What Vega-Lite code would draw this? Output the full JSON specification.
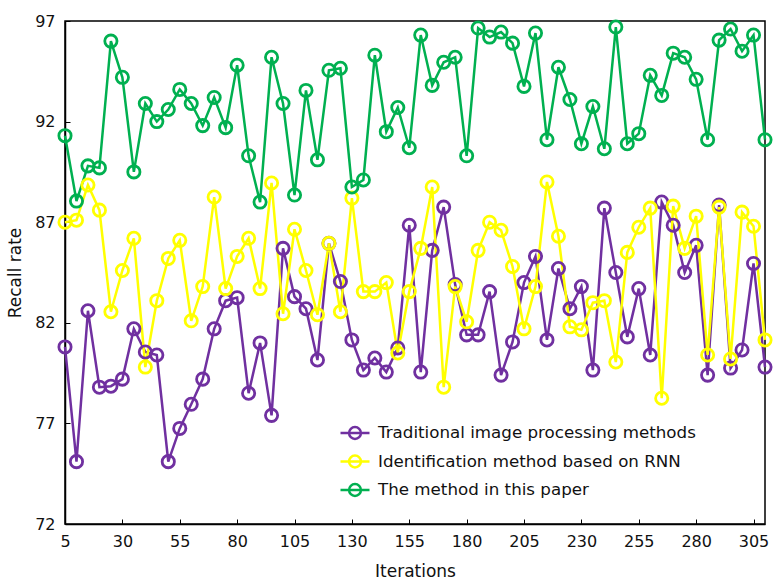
{
  "$schema": "https://vega.github.io/schema/vega-lite/v6.json",
  "width": 700,
  "height": 503,
  "autosize": {"type": "none"},
  "padding": {"left": 65, "top": 21, "right": 9, "bottom": 57},
  "background": "white",
  "config": {
    "font": "DejaVu Sans",
    "view": {"stroke": "black", "strokeWidth": 1.5},
    "axis": {
      "grid": false,
      "domainColor": "black",
      "domainWidth": 1.5,
      "tickColor": "black",
      "tickWidth": 1,
      "tickSize": -5,
      "labelFontSize": 16,
      "labelColor": "#111111",
      "titleFontSize": 17,
      "titleFontWeight": "normal",
      "titleColor": "#111111",
      "labelFont": "DejaVu Sans",
      "titleFont": "DejaVu Sans"
    }
  },
  "data": {
    "values": [
      {"it":5,"s":"Traditional image processing methods","v":80.8},
      {"it":10,"s":"Traditional image processing methods","v":75.1},
      {"it":15,"s":"Traditional image processing methods","v":82.6},
      {"it":20,"s":"Traditional image processing methods","v":78.8},
      {"it":25,"s":"Traditional image processing methods","v":78.85},
      {"it":30,"s":"Traditional image processing methods","v":79.2},
      {"it":35,"s":"Traditional image processing methods","v":81.7},
      {"it":40,"s":"Traditional image processing methods","v":80.55},
      {"it":45,"s":"Traditional image processing methods","v":80.4},
      {"it":50,"s":"Traditional image processing methods","v":75.1},
      {"it":55,"s":"Traditional image processing methods","v":76.75},
      {"it":60,"s":"Traditional image processing methods","v":77.95},
      {"it":65,"s":"Traditional image processing methods","v":79.2},
      {"it":70,"s":"Traditional image processing methods","v":81.7},
      {"it":75,"s":"Traditional image processing methods","v":83.1},
      {"it":80,"s":"Traditional image processing methods","v":83.25},
      {"it":85,"s":"Traditional image processing methods","v":78.5},
      {"it":90,"s":"Traditional image processing methods","v":81.0},
      {"it":95,"s":"Traditional image processing methods","v":77.4},
      {"it":100,"s":"Traditional image processing methods","v":85.7},
      {"it":105,"s":"Traditional image processing methods","v":83.3},
      {"it":110,"s":"Traditional image processing methods","v":82.7},
      {"it":115,"s":"Traditional image processing methods","v":80.15},
      {"it":120,"s":"Traditional image processing methods","v":85.95},
      {"it":125,"s":"Traditional image processing methods","v":84.05},
      {"it":130,"s":"Traditional image processing methods","v":81.15},
      {"it":135,"s":"Traditional image processing methods","v":79.65},
      {"it":140,"s":"Traditional image processing methods","v":80.25},
      {"it":145,"s":"Traditional image processing methods","v":79.55},
      {"it":150,"s":"Traditional image processing methods","v":80.75},
      {"it":155,"s":"Traditional image processing methods","v":86.85},
      {"it":160,"s":"Traditional image processing methods","v":79.55},
      {"it":165,"s":"Traditional image processing methods","v":85.6},
      {"it":170,"s":"Traditional image processing methods","v":87.75},
      {"it":175,"s":"Traditional image processing methods","v":83.9},
      {"it":180,"s":"Traditional image processing methods","v":81.4},
      {"it":185,"s":"Traditional image processing methods","v":81.4},
      {"it":190,"s":"Traditional image processing methods","v":83.55},
      {"it":195,"s":"Traditional image processing methods","v":79.4},
      {"it":200,"s":"Traditional image processing methods","v":81.05},
      {"it":205,"s":"Traditional image processing methods","v":84.0},
      {"it":210,"s":"Traditional image processing methods","v":85.3},
      {"it":215,"s":"Traditional image processing methods","v":81.15},
      {"it":220,"s":"Traditional image processing methods","v":84.7},
      {"it":225,"s":"Traditional image processing methods","v":82.7},
      {"it":230,"s":"Traditional image processing methods","v":83.8},
      {"it":235,"s":"Traditional image processing methods","v":79.65},
      {"it":240,"s":"Traditional image processing methods","v":87.7},
      {"it":245,"s":"Traditional image processing methods","v":84.5},
      {"it":250,"s":"Traditional image processing methods","v":81.3},
      {"it":255,"s":"Traditional image processing methods","v":83.7},
      {"it":260,"s":"Traditional image processing methods","v":80.4},
      {"it":265,"s":"Traditional image processing methods","v":88.0},
      {"it":270,"s":"Traditional image processing methods","v":86.85},
      {"it":275,"s":"Traditional image processing methods","v":84.5},
      {"it":280,"s":"Traditional image processing methods","v":85.85},
      {"it":285,"s":"Traditional image processing methods","v":79.4},
      {"it":290,"s":"Traditional image processing methods","v":87.85},
      {"it":295,"s":"Traditional image processing methods","v":79.75},
      {"it":300,"s":"Traditional image processing methods","v":80.65},
      {"it":305,"s":"Traditional image processing methods","v":84.95},
      {"it":310,"s":"Traditional image processing methods","v":79.8},
      {"it":5,"s":"Identification method based on RNN","v":87.0},
      {"it":10,"s":"Identification method based on RNN","v":87.1},
      {"it":15,"s":"Identification method based on RNN","v":88.85},
      {"it":20,"s":"Identification method based on RNN","v":87.6},
      {"it":25,"s":"Identification method based on RNN","v":82.55},
      {"it":30,"s":"Identification method based on RNN","v":84.6},
      {"it":35,"s":"Identification method based on RNN","v":86.2},
      {"it":40,"s":"Identification method based on RNN","v":79.8},
      {"it":45,"s":"Identification method based on RNN","v":83.1},
      {"it":50,"s":"Identification method based on RNN","v":85.2},
      {"it":55,"s":"Identification method based on RNN","v":86.1},
      {"it":60,"s":"Identification method based on RNN","v":82.1},
      {"it":65,"s":"Identification method based on RNN","v":83.8},
      {"it":70,"s":"Identification method based on RNN","v":88.25},
      {"it":75,"s":"Identification method based on RNN","v":83.7},
      {"it":80,"s":"Identification method based on RNN","v":85.3},
      {"it":85,"s":"Identification method based on RNN","v":86.2},
      {"it":90,"s":"Identification method based on RNN","v":83.7},
      {"it":95,"s":"Identification method based on RNN","v":88.95},
      {"it":100,"s":"Identification method based on RNN","v":82.45},
      {"it":105,"s":"Identification method based on RNN","v":86.65},
      {"it":110,"s":"Identification method based on RNN","v":84.6},
      {"it":115,"s":"Identification method based on RNN","v":82.4},
      {"it":120,"s":"Identification method based on RNN","v":85.95},
      {"it":125,"s":"Identification method based on RNN","v":82.55},
      {"it":130,"s":"Identification method based on RNN","v":88.2},
      {"it":135,"s":"Identification method based on RNN","v":83.55},
      {"it":140,"s":"Identification method based on RNN","v":83.55},
      {"it":145,"s":"Identification method based on RNN","v":84.0},
      {"it":150,"s":"Identification method based on RNN","v":80.5},
      {"it":155,"s":"Identification method based on RNN","v":83.55},
      {"it":160,"s":"Identification method based on RNN","v":85.7},
      {"it":165,"s":"Identification method based on RNN","v":88.75},
      {"it":170,"s":"Identification method based on RNN","v":78.8},
      {"it":175,"s":"Identification method based on RNN","v":83.8},
      {"it":180,"s":"Identification method based on RNN","v":82.05},
      {"it":185,"s":"Identification method based on RNN","v":85.6},
      {"it":190,"s":"Identification method based on RNN","v":87.0},
      {"it":195,"s":"Identification method based on RNN","v":86.6},
      {"it":200,"s":"Identification method based on RNN","v":84.8},
      {"it":205,"s":"Identification method based on RNN","v":81.7},
      {"it":210,"s":"Identification method based on RNN","v":83.8},
      {"it":215,"s":"Identification method based on RNN","v":89.0},
      {"it":220,"s":"Identification method based on RNN","v":86.3},
      {"it":225,"s":"Identification method based on RNN","v":81.8},
      {"it":230,"s":"Identification method based on RNN","v":81.65},
      {"it":235,"s":"Identification method based on RNN","v":83.0},
      {"it":240,"s":"Identification method based on RNN","v":83.1},
      {"it":245,"s":"Identification method based on RNN","v":80.05},
      {"it":250,"s":"Identification method based on RNN","v":85.5},
      {"it":255,"s":"Identification method based on RNN","v":86.75},
      {"it":260,"s":"Identification method based on RNN","v":87.7},
      {"it":265,"s":"Identification method based on RNN","v":78.25},
      {"it":270,"s":"Identification method based on RNN","v":87.8},
      {"it":275,"s":"Identification method based on RNN","v":85.7},
      {"it":280,"s":"Identification method based on RNN","v":87.3},
      {"it":285,"s":"Identification method based on RNN","v":80.4},
      {"it":290,"s":"Identification method based on RNN","v":87.75},
      {"it":295,"s":"Identification method based on RNN","v":80.2},
      {"it":300,"s":"Identification method based on RNN","v":87.5},
      {"it":305,"s":"Identification method based on RNN","v":86.8},
      {"it":310,"s":"Identification method based on RNN","v":81.15},
      {"it":5,"s":"The method in this paper","v":91.3},
      {"it":10,"s":"The method in this paper","v":88.05},
      {"it":15,"s":"The method in this paper","v":89.8},
      {"it":20,"s":"The method in this paper","v":89.7},
      {"it":25,"s":"The method in this paper","v":96.0},
      {"it":30,"s":"The method in this paper","v":94.2},
      {"it":35,"s":"The method in this paper","v":89.5},
      {"it":40,"s":"The method in this paper","v":92.9},
      {"it":45,"s":"The method in this paper","v":92.0},
      {"it":50,"s":"The method in this paper","v":92.6},
      {"it":55,"s":"The method in this paper","v":93.6},
      {"it":60,"s":"The method in this paper","v":92.9},
      {"it":65,"s":"The method in this paper","v":91.8},
      {"it":70,"s":"The method in this paper","v":93.2},
      {"it":75,"s":"The method in this paper","v":91.7},
      {"it":80,"s":"The method in this paper","v":94.8},
      {"it":85,"s":"The method in this paper","v":90.3},
      {"it":90,"s":"The method in this paper","v":88.0},
      {"it":95,"s":"The method in this paper","v":95.2},
      {"it":100,"s":"The method in this paper","v":92.9},
      {"it":105,"s":"The method in this paper","v":88.35},
      {"it":110,"s":"The method in this paper","v":93.55},
      {"it":115,"s":"The method in this paper","v":90.1},
      {"it":120,"s":"The method in this paper","v":94.55},
      {"it":125,"s":"The method in this paper","v":94.65},
      {"it":130,"s":"The method in this paper","v":88.75},
      {"it":135,"s":"The method in this paper","v":89.1},
      {"it":140,"s":"The method in this paper","v":95.3},
      {"it":145,"s":"The method in this paper","v":91.5},
      {"it":150,"s":"The method in this paper","v":92.7},
      {"it":155,"s":"The method in this paper","v":90.7},
      {"it":160,"s":"The method in this paper","v":96.3},
      {"it":165,"s":"The method in this paper","v":93.8},
      {"it":170,"s":"The method in this paper","v":94.95},
      {"it":175,"s":"The method in this paper","v":95.2},
      {"it":180,"s":"The method in this paper","v":90.3},
      {"it":185,"s":"The method in this paper","v":96.65},
      {"it":190,"s":"The method in this paper","v":96.2},
      {"it":195,"s":"The method in this paper","v":96.45},
      {"it":200,"s":"The method in this paper","v":95.9},
      {"it":205,"s":"The method in this paper","v":93.75},
      {"it":210,"s":"The method in this paper","v":96.4},
      {"it":215,"s":"The method in this paper","v":91.1},
      {"it":220,"s":"The method in this paper","v":94.7},
      {"it":225,"s":"The method in this paper","v":93.1},
      {"it":230,"s":"The method in this paper","v":90.9},
      {"it":235,"s":"The method in this paper","v":92.75},
      {"it":240,"s":"The method in this paper","v":90.65},
      {"it":245,"s":"The method in this paper","v":96.7},
      {"it":250,"s":"The method in this paper","v":90.9},
      {"it":255,"s":"The method in this paper","v":91.4},
      {"it":260,"s":"The method in this paper","v":94.3},
      {"it":265,"s":"The method in this paper","v":93.3},
      {"it":270,"s":"The method in this paper","v":95.4},
      {"it":275,"s":"The method in this paper","v":95.2},
      {"it":280,"s":"The method in this paper","v":94.1},
      {"it":285,"s":"The method in this paper","v":91.1},
      {"it":290,"s":"The method in this paper","v":96.05},
      {"it":295,"s":"The method in this paper","v":96.6},
      {"it":300,"s":"The method in this paper","v":95.5},
      {"it":305,"s":"The method in this paper","v":96.3},
      {"it":310,"s":"The method in this paper","v":91.1}
    ]
  },
  "mark": {
    "type": "line",
    "strokeWidth": 2.5,
    "point": {"filled": false, "size": 150, "strokeWidth": 2.8}
  },
  "encoding": {
    "x": {
      "field": "it",
      "type": "quantitative",
      "title": "Iterations",
      "scale": {"domain": [5, 310], "nice": false, "zero": false},
      "axis": {"values": [5, 30, 55, 80, 105, 130, 155, 180, 205, 230, 255, 280, 305], "labelPadding": 14, "titlePadding": 14, "labelFlush": false}
    },
    "y": {
      "field": "v",
      "type": "quantitative",
      "title": "Recall rate",
      "scale": {"domain": [72, 97], "nice": false, "zero": false},
      "axis": {"values": [72, 77, 82, 87, 92, 97], "labelPadding": 15, "titlePadding": 10, "labelFlush": false}
    },
    "color": {
      "field": "s",
      "type": "nominal",
      "sort": null,
      "scale": {
        "domain": ["Traditional image processing methods", "Identification method based on RNN", "The method in this paper"],
        "range": ["#7030A0", "#FFFF00", "#00B050"]
      },
      "legend": {
        "orient": "none",
        "legendX": 274,
        "legendY": 396,
        "title": null,
        "labelFontSize": 16.7,
        "labelLimit": 0,
        "labelColor": "#111111",
        "labelFont": "DejaVu Sans",
        "labelOffset": 7,
        "rowPadding": 1.5,
        "symbolType": "M-1,0L1,0M0.41,0A0.41,0.41,0,1,1,-0.41,0A0.41,0.41,0,1,1,0.41,0",
        "symbolSize": 841,
        "symbolStrokeWidth": 2.5,
        "symbolFillColor": "transparent"
      }
    }
  }
}
